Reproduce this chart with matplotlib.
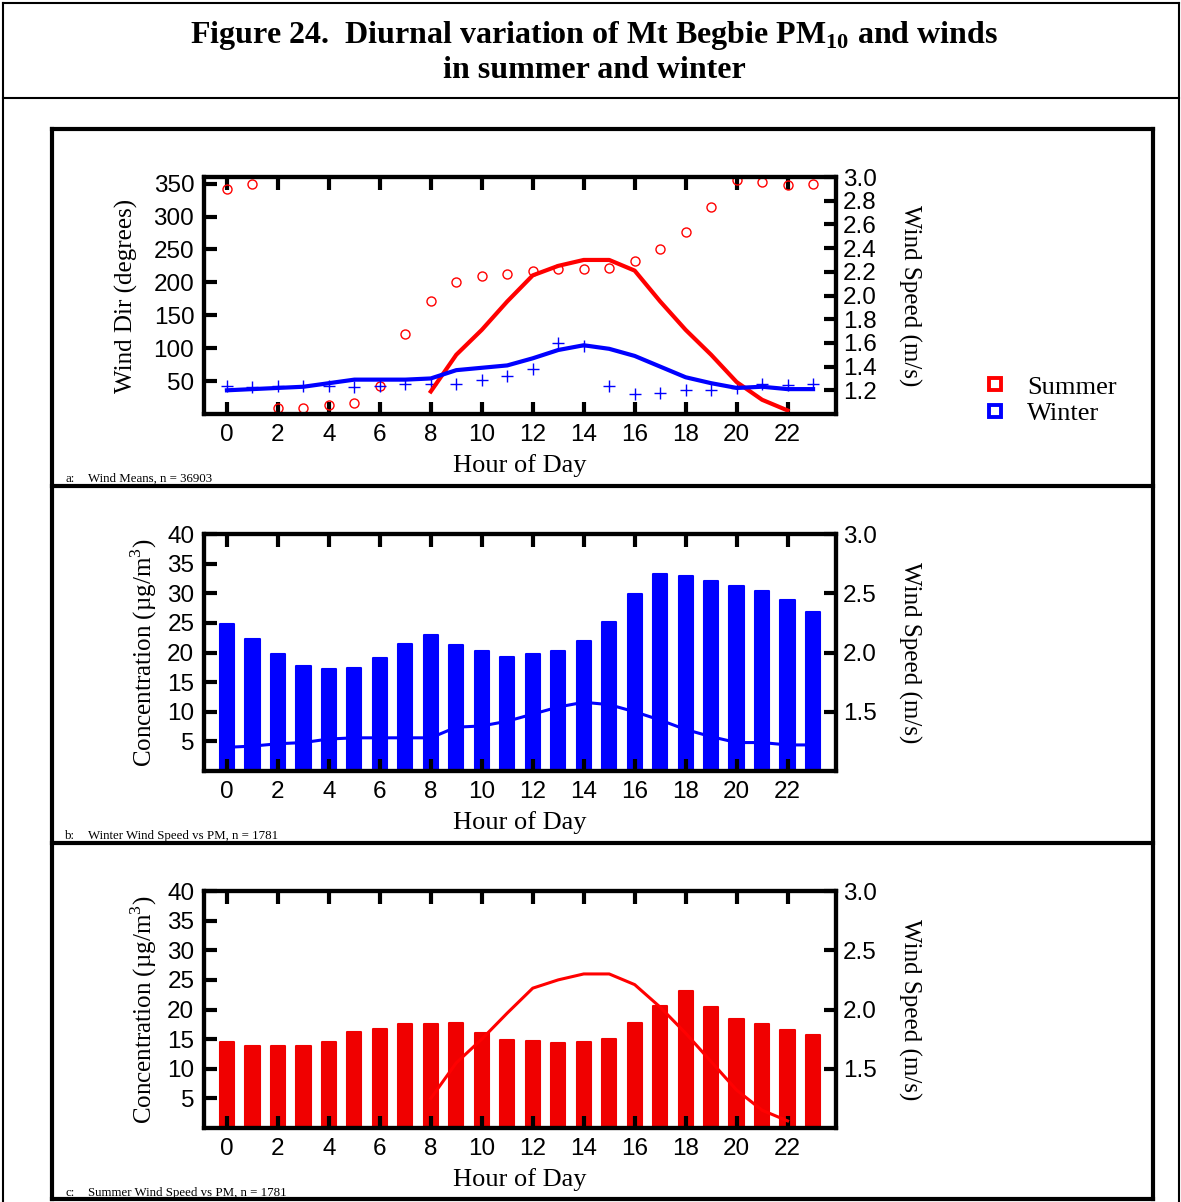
import numpy as np
import matplotlib.pyplot as plt
from matplotlib.lines import Line2D

plt.rcParams['mathtext.fontset'] = 'custom'
plt.rcParams['mathtext.rm'] = 'Liberation Serif'
plt.rcParams['mathtext.bf'] = 'Liberation Serif:bold'

# heures de la journee
hours = np.arange(24)

# fig a : direction du vent (degres)
summer_dir = [342, 349, 9, 9, 14, 17, 42, 121, 171, 201, 209, 212,
              217, 220, 221, 222, 233, 251, 277, 314, 355, 352, 348, 350]
winter_dir = [43, 41, 43, 43, 42, 41, 43, 45, 46, 46, 52, 57,
              69, 108, 103, 43, 31, 32, 37, 37, 39, 45, 44, 45]
# fig a : vitesse moyenne (m/s), nan = hors echelle
summer_speed_a = [np.nan] * 8 + [1.19, 1.50, 1.71, 1.95, 2.17, 2.25, 2.30, 2.30,
                                 2.21, 1.95, 1.71, 1.50, 1.27, 1.12, 1.03, np.nan]
winter_speed_a = [1.20, 1.21, 1.22, 1.23, 1.26, 1.29, 1.29, 1.29, 1.30, 1.37, 1.39, 1.41,
                  1.47, 1.54, 1.58, 1.55, 1.49, 1.40, 1.31, 1.26, 1.22, 1.23, 1.21, 1.21]

# fig b : hiver, PM10 (ug/m3) et vitesse
winter_pm = [24.8, 22.3, 19.8, 17.7, 17.2, 17.4, 19.0, 21.5, 22.9, 21.2, 20.2, 19.3,
             19.7, 20.2, 22.0, 25.2, 29.8, 33.3, 32.9, 32.0, 31.3, 30.4, 28.9, 26.9]
winter_speed_b = [1.20, 1.21, 1.23, 1.24, 1.27, 1.28, 1.28, 1.28, 1.28, 1.37, 1.38, 1.42,
                  1.48, 1.54, 1.58, 1.56, 1.50, 1.43, 1.35, 1.29, 1.24, 1.24, 1.22, 1.22]

# fig c : ete, PM10 et vitesse
summer_pm = [14.5, 13.9, 13.8, 13.9, 14.5, 16.2, 16.7, 17.6, 17.5, 17.7, 16.0, 14.8,
             14.7, 14.4, 14.5, 15.0, 17.8, 20.6, 23.2, 20.4, 18.4, 17.5, 16.6, 15.7]
summer_speed_c = [np.nan] * 8 + [1.25, 1.55, 1.75, 1.97, 2.18, 2.25, 2.30, 2.30,
                                 2.21, 2.02, 1.80, 1.56, 1.32, 1.15, 1.06, np.nan]

RED = '#ff0000'
BAR_RED = '#f00000'
BLUE = '#0000ff'

W, H = 1181, 1202
fig = plt.figure(figsize=(W / 100, H / 100), dpi=100)


def fx(x):
    return x / W


def fy(y):
    return 1 - y / H


def hline(x0, x1, y, lw):
    fig.add_artist(Line2D([fx(x0), fx(x1)], [fy(y), fy(y)], color='black', lw=lw,
                          transform=fig.transFigure, solid_capstyle='projecting'))


def vline(x, y0, y1, lw):
    fig.add_artist(Line2D([fx(x), fx(x)], [fy(y0), fy(y1)], color='black', lw=lw,
                          transform=fig.transFigure, solid_capstyle='projecting'))


# cadres
hline(3, 1179, 3, 1.5)
hline(3, 1179, 98, 1.5)
vline(3, 3, 1202, 1.5)
vline(1179, 3, 1202, 1.5)
for yy in (129, 486, 843, 1199):
    hline(52, 1153, yy, 3)
vline(52, 129, 1199, 3)
vline(1153, 129, 1199, 3)

fig.text(0.503, fy(35), r"Figure 24.  Diurnal variation of Mt Begbie PM$_{\mathbf{10}}$ and winds",
         ha='center', va='center', fontsize=23, fontweight='bold', family='Liberation Serif')
fig.text(0.503, fy(70), "in summer and winter", ha='center', va='center',
         fontsize=23, fontweight='bold', family='Liberation Serif')

serif = dict(family='Liberation Serif', fontsize=19)
yserif = dict(family='Liberation Serif', fontsize=18)


def style(ax, ax2, yticks, rticks, rfmt):
    for a in (ax, ax2):
        for s in a.spines.values():
            s.set_linewidth(3)
    ax.set_xlim(-0.9, 23.9)
    ax.set_xticks(range(0, 23, 2))
    ax.set_yticks(yticks)
    ax.tick_params(axis='both', direction='in', length=9, width=3, labelsize=17.5,
                   pad=7, top=True, labeltop=False)
    ax2.set_yticks(rticks)
    ax2.set_yticklabels([rfmt % v for v in rticks])
    ax2.tick_params(axis='y', direction='in', length=9, width=3, labelsize=17.5, pad=5)
    for lab in ax.get_xticklabels() + ax.get_yticklabels() + ax2.get_yticklabels():
        lab.set_family('Liberation Sans')
    ax.set_xlabel("Hour of Day", labelpad=6, **serif)
    ax2.set_ylabel("Wind Speed (m/s)", rotation=270, labelpad=32, **yserif)


left, width = fx(204), fx(836) - fx(204)

# --- a : vents moyens
axa = fig.add_axes([left, fy(414), width, fy(177) - fy(414)])
axa2 = axa.twinx()
axa.plot(hours, summer_dir, 'o', mfc='none', mec=RED, ms=6.5, mew=1)
axa.plot(hours, winter_dir, '+', color=BLUE, ms=8, mew=1)
axa.set_ylim(0, 360)
axa2.plot(hours, summer_speed_a, color=RED, lw=3)
axa2.plot(hours, winter_speed_a, color=BLUE, lw=3)
axa2.set_ylim(1.0, 3.0)
style(axa, axa2, range(50, 351, 50), np.arange(1.2, 3.01, 0.2), '%.1f')
axa.set_ylabel("Wind Dir (degrees)", labelpad=11, **yserif)

handles = [Line2D([], [], ls='none', marker='s', mfc='none', mec=RED, ms=9, mew=2.8),
           Line2D([], [], ls='none', marker='s', mfc='none', mec=BLUE, ms=9, mew=2.8)]
fig.legend(handles, ["Summer", "Winter"], loc='center left',
           bbox_to_anchor=(fx(986), fy(400)), frameon=False, borderpad=0,
           borderaxespad=0, handlelength=0.7, handletextpad=0.85,
           labelspacing=0.1, prop=dict(family='Liberation Serif', size=19))

# --- b : hiver
axb = fig.add_axes([left, fy(771), width, fy(534) - fy(771)])
axb2 = axb.twinx()
axb.bar(hours, winter_pm, width=0.56, color=BLUE, edgecolor=BLUE, lw=1.5, joinstyle='round')
axb.set_ylim(0, 40)
axb2.plot(hours, winter_speed_b, color=BLUE, lw=2.2)
axb2.set_ylim(1.0, 3.0)
style(axb, axb2, range(5, 41, 5), [1.5, 2.0, 2.5, 3.0], '%.1f')
axb.set_ylabel(r"Concentration (µg/m$^{3}$)", labelpad=6, **yserif)

# --- c : ete
axc = fig.add_axes([left, fy(1128), width, fy(891) - fy(1128)])
axc2 = axc.twinx()
axc.bar(hours, summer_pm, width=0.56, color=BAR_RED, edgecolor=BAR_RED, lw=1.5, joinstyle='round')
axc.set_ylim(0, 40)
axc2.plot(hours, summer_speed_c, color=RED, lw=2.2)
axc2.set_ylim(1.0, 3.0)
style(axc, axc2, range(5, 41, 5), [1.5, 2.0, 2.5, 3.0], '%.1f')
axc.set_ylabel(r"Concentration (µg/m$^{3}$)", labelpad=6, **yserif)

# notes en bas de chaque cadre
small = dict(family='Liberation Serif', fontsize=9.3, va='baseline')
for yb, tag, txt in [(482, "a:", "Wind Means, n = 36903"),
                     (839, "b:", "Winter Wind Speed vs PM, n = 1781"),
                     (1196, "c:", "Summer Wind Speed vs PM, n = 1781")]:
    fig.text(fx(65), fy(yb), tag, **small)
    fig.text(fx(88), fy(yb), txt, **small)

fig.savefig("out.png", dpi=100)
